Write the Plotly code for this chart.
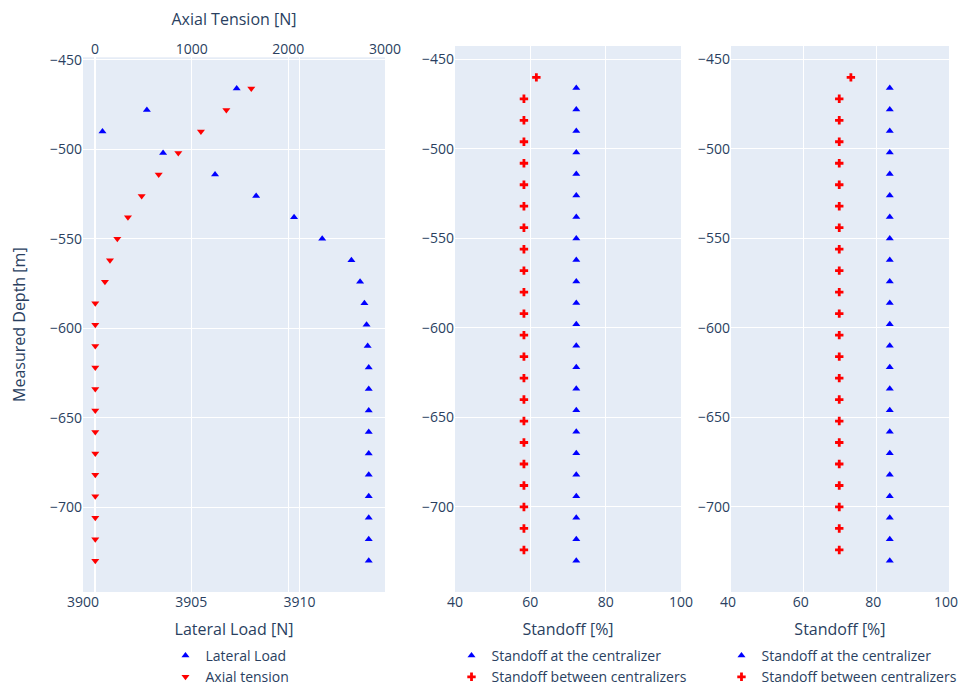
import plotly.graph_objects as go

# ---------------- data ----------------
depth_centralizer = [-466, -478, -490, -502, -514, -526, -538, -550, -562, -574, -586, -598,
                     -610, -622, -634, -646, -658, -670, -682, -694, -706, -718, -730]
depth_between = [-460, -472, -484, -496, -508, -520, -532, -544, -556, -568, -580, -592,
                 -604, -616, -628, -640, -652, -664, -676, -688, -700, -712, -724]

lateral_load = [3907.1, 3902.95, 3900.9, 3903.7, 3906.1, 3908.0, 3909.75, 3911.05, 3912.4,
                3912.8, 3913.0, 3913.1, 3913.15, 3913.2, 3913.2, 3913.2, 3913.2, 3913.2,
                3913.2, 3913.2, 3913.2, 3913.2, 3913.2]
axial_tension = [1617, 1359, 1096, 862, 659, 483, 341, 231, 155, 103, 3, 3, 3, 3, 3, 3, 3,
                 3, 3, 3, 3, 3, 3]

standoff_at_a = [72.2] * 23
standoff_between_a = [61.6, 58.3, 58.3, 58.3, 58.3, 58.3, 58.3, 58.3, 58.3, 58.3, 58.3, 58.3,
                      58.3, 58.3, 58.3, 58.3, 58.3, 58.3, 58.3, 58.3, 58.3, 58.3, 58.3]
standoff_at_b = [83.7] * 23
standoff_between_b = [73.0, 69.8, 69.8, 69.8, 69.8, 69.8, 69.8, 69.8, 69.8, 69.8, 69.8, 69.8,
                      69.8, 69.8, 69.8, 69.8, 69.8, 69.8, 69.8, 69.8, 69.8, 69.8, 69.8]

# ---------------- figure ----------------
BLUE = "#0000ff"
RED = "#ff0000"
TRI = 7
CROSS = 7

fig = go.Figure()

fig.add_trace(go.Scatter(x=lateral_load, y=depth_centralizer, mode="markers",
                         name="Lateral Load", xaxis="x", yaxis="y", legend="legend",
                         marker=dict(symbol="triangle-up", color=BLUE, size=TRI)))
fig.add_trace(go.Scatter(x=axial_tension, y=depth_centralizer, mode="markers",
                         name="Axial tension", xaxis="x4", yaxis="y", legend="legend",
                         marker=dict(symbol="triangle-down", color=RED, size=TRI)))

fig.add_trace(go.Scatter(x=standoff_at_a, y=depth_centralizer, mode="markers",
                         name="Standoff at the centralizer", xaxis="x2", yaxis="y2",
                         legend="legend2",
                         marker=dict(symbol="triangle-up", color=BLUE, size=TRI)))
fig.add_trace(go.Scatter(x=standoff_between_a, y=depth_between, mode="markers",
                         name="Standoff between centralizers", xaxis="x2", yaxis="y2",
                         legend="legend2",
                         marker=dict(symbol="cross", color=RED, size=CROSS)))

fig.add_trace(go.Scatter(x=standoff_at_b, y=depth_centralizer, mode="markers",
                         name="Standoff at the centralizer", xaxis="x3", yaxis="y3",
                         legend="legend3",
                         marker=dict(symbol="triangle-up", color=BLUE, size=TRI)))
fig.add_trace(go.Scatter(x=standoff_between_b, y=depth_between, mode="markers",
                         name="Standoff between centralizers", xaxis="x3", yaxis="y3",
                         legend="legend3",
                         marker=dict(symbol="cross", color=RED, size=CROSS)))

TICKF = dict(size=14)
TITLEF = dict(size=16)

# the page body adds an 8px offset, so the figure is 8px smaller than the window
W, H = 959, 679
PW = W - 75 - 12

d1 = [0.0, 0.3463]
d2 = [0.4266, 0.6858]
d3 = [0.7431, 0.9931]

legend_common = dict(orientation="v", yref="container", yanchor="top", y=(H - 632) / H,
                     xanchor="center", font=dict(size=14), bgcolor="rgba(0,0,0,0)")

fig.update_layout(
    template="plotly",
    width=W, height=H,
    margin=dict(l=75, r=12, t=38, b=95, autoexpand=False),
    font=dict(family="Open Sans, sans-serif", size=14),
    xaxis=dict(domain=d1, anchor="y", range=[3900, 3913.95],
               title=dict(text="Lateral Load [N]", font=TITLEF), tickfont=TICKF),
    xaxis4=dict(overlaying="x", side="top", anchor="y", range=[-124, 3000],
                ticklabeloverflow="allow",
                title=dict(text="Axial Tension [N]", font=TITLEF), tickfont=TICKF),
    yaxis=dict(domain=[0, 0.9793], anchor="x", range=[-747.5, -448.5], dtick=50,
               title=dict(text="Measured Depth [m]", font=TITLEF, standoff=20), tickfont=TICKF),
    xaxis2=dict(domain=d2, anchor="y2", range=[40, 100], dtick=20,
                title=dict(text="Standoff [%]", font=TITLEF), tickfont=TICKF),
    yaxis2=dict(domain=[0, 1], anchor="x2", range=[-747.5, -442.5], dtick=50, tickfont=TICKF),
    xaxis3=dict(domain=d3, anchor="y3", range=[40, 100], dtick=20, ticklabeloverflow="allow",
                ticklabelshift=-3,
                title=dict(text="Standoff [%]", font=TITLEF), tickfont=TICKF),
    yaxis3=dict(domain=[0, 1], anchor="x3", range=[-747.5, -442.5], dtick=50, tickfont=TICKF),
    legend=dict(x=sum(d1) / 2 - 4 / PW, **legend_common),
    legend2=dict(x=sum(d2) / 2 + 4 / PW, **legend_common),
    legend3=dict(x=sum(d3) / 2 + 2 / PW, **legend_common),
)

fig.write_html("out.html")
